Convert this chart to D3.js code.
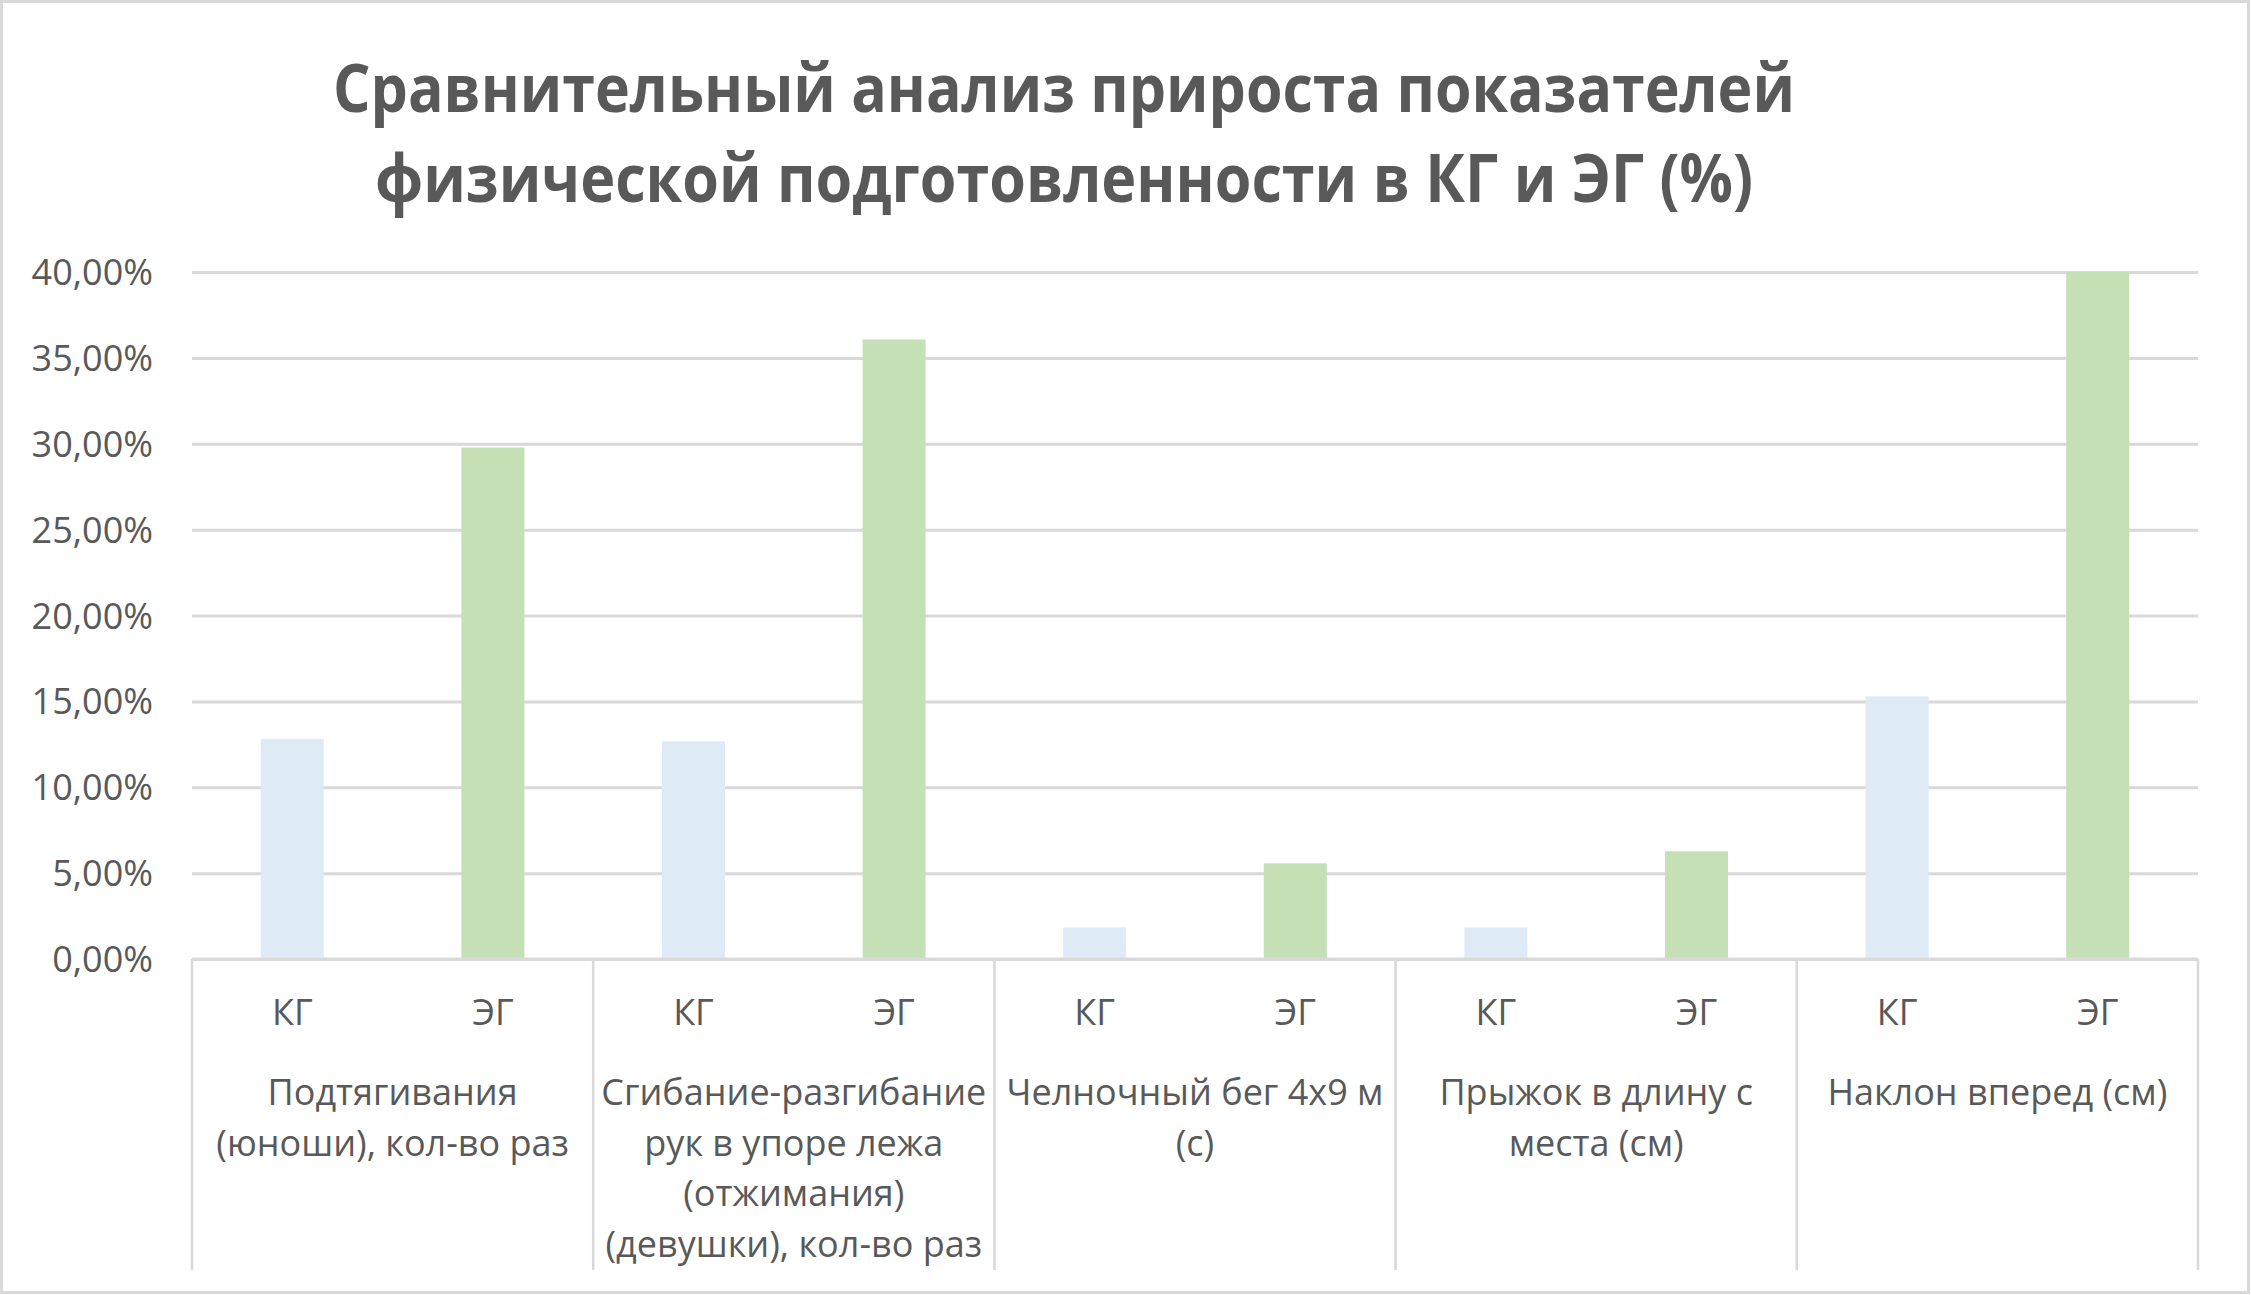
<!DOCTYPE html>
<html>
<head>
<meta charset="utf-8">
<script src="https://cdn.jsdelivr.net/npm/d3@7"></script>
<style>
  body { margin: 0; background: #fff; }
  text { font-family: "Open Sans", sans-serif; fill: #595959; }
</style>
</head>
<body>
<svg id="chart"></svg>
<script>
// categories (line breaks as in the original axis labels)
let categories = [
    "Подтягивания\n(юноши), кол-во раз",
    "Сгибание-разгибание\nрук в упоре лежа\n(отжимания)\n(девушки), кол-во раз",
    "Челночный бег 4х9 м\n(с)",
    "Прыжок в длину с\nместа (см)",
    "Наклон вперед (см)"
];
let groups = ["КГ", "ЭГ"];
let kgValues = [0.1282, 0.1267, 0.0184, 0.0184, 0.1529];
let egValues = [0.2978, 0.3607, 0.0557, 0.0627, 0.40];
let yTicks = [0, 0.05, 0.10, 0.15, 0.20, 0.25, 0.30, 0.35, 0.40];
let titleLines = [
    "Сравнительный анализ прироста показателей",
    "физической подготовленности в КГ и ЭГ (%)"
];

const W = 2251, H = 1295;
const plotLeft = 192, plotRight = 2198, plotTop = 272, plotBottom = 959, axisBottom = 1270;

let svg = d3.select('#chart').attr('width', W).attr('height', H);

// chart border
svg.append('rect')
    .attr('x', 1.5).attr('y', 1.5)
    .attr('width', 2247).attr('height', 1291)
    .attr('fill', '#fff').attr('stroke', '#d9d9d9').attr('stroke-width', 3);

// title
svg.selectAll('text.title')
    .data(titleLines).enter().append('text')
    .attr('class', 'title')
    .attr('x', 1064).attr('y', (d, i) => 112 + i * 90)
    .attr('text-anchor', 'middle')
    .attr('font-size', 66).attr('font-weight', 'bold')
    .attr('textLength', (d, i) => i === 0 ? 1462 : 1378)
    .attr('lengthAdjust', 'spacingAndGlyphs')
    .text(d => d);

// flat list of bars
let rows = [];
categories.forEach((c, i) => {
    rows.push({ cat: i, grp: groups[0], value: kgValues[i], key: i + '-' + groups[0] });
    rows.push({ cat: i, grp: groups[1], value: egValues[i], key: i + '-' + groups[1] });
});

let scX = d3.scaleBand()
    .domain(rows.map(d => d.key))
    .range([plotLeft, plotRight])
    .paddingInner(0.686).paddingOuter(0.343);
let scCat = d3.scaleBand()
    .domain(d3.range(categories.length))
    .range([plotLeft, plotRight]);
let scY = d3.scaleLinear()
    .domain([0, 0.40])
    .range([plotBottom, plotTop]);

let fmt = v => d3.format('.2f')(v * 100).replace('.', ',') + '%';

// gridlines + y labels
let yAxis = svg.append('g')
    .attr('transform', `translate(${plotLeft},0)`)
    .call(d3.axisLeft(scY).tickValues(yTicks).tickSize(-(plotRight - plotLeft)).tickFormat(fmt));
yAxis.select('.domain').remove();
yAxis.selectAll('.tick line').attr('stroke', '#d9d9d9').attr('stroke-width', 3);
yAxis.selectAll('.tick text')
    .attr('x', -39).attr('dy', '0.35em')
    .attr('font-size', 36).attr('font-family', '"Open Sans", sans-serif')
    .attr('fill', '#595959');

// bars
let color = d3.scaleOrdinal().domain(groups).range(['#deebf7', '#c5e0b4']);
svg.selectAll('rect.bar')
    .data(rows).enter().append('rect')
    .attr('class', 'bar')
    .attr('x', d => scX(d.key))
    .attr('width', scX.bandwidth())
    .attr('y', d => scY(d.value))
    .attr('height', d => scY(0) - scY(d.value))
    .attr('fill', d => color(d.grp));

// category axis: baseline and dividers
svg.append('line')
    .attr('x1', plotLeft).attr('x2', plotRight)
    .attr('y1', scY(0)).attr('y2', scY(0))
    .attr('stroke', '#d9d9d9').attr('stroke-width', 3);
svg.selectAll('line.div')
    .data(d3.range(categories.length + 1)).enter().append('line')
    .attr('class', 'div')
    .attr('x1', i => i < categories.length ? scCat(i) : plotRight)
    .attr('x2', i => i < categories.length ? scCat(i) : plotRight)
    .attr('y1', scY(0)).attr('y2', axisBottom)
    .attr('stroke', '#d9d9d9').attr('stroke-width', 2.5);

// group labels
svg.selectAll('text.grp')
    .data(rows).enter().append('text')
    .attr('class', 'grp')
    .attr('x', d => scX(d.key) + scX.bandwidth() / 2)
    .attr('y', 1025)
    .attr('text-anchor', 'middle')
    .attr('font-size', 36)
    .text(d => d.grp);

// category labels
let catText = svg.selectAll('text.cat')
    .data(categories).enter().append('text')
    .attr('class', 'cat')
    .attr('text-anchor', 'middle')
    .attr('font-size', 36);
catText.selectAll('tspan')
    .data((d, i) => d.split('\n').map(s => ({ s: s, i: i })))
    .enter().append('tspan')
    .attr('x', d => scCat(d.i) + scCat.bandwidth() / 2)
    .attr('y', (d, j) => 1105 + j * 50.7)
    .text(d => d.s);
</script>
</body>
</html>
